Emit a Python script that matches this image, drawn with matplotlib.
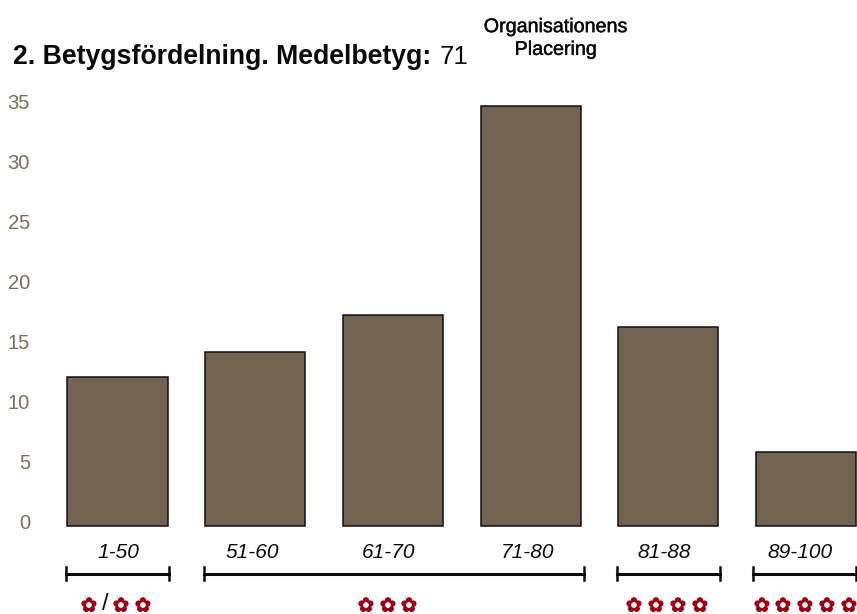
import numpy as np
import matplotlib
matplotlib.use("Agg")
import matplotlib.pyplot as plt
import matplotlib.patheffects as pe

plt.rcParams['font.family'] = ['Liberation Sans', 'DejaVu Sans']

categories = ['1-50', '51-60', '61-70', '71-80', '81-88', '89-100']
values = [12.4, 14.5, 17.6, 35.0, 16.6, 6.2]
y_ticks = [0, 5, 10, 15, 20, 25, 30, 35]

W, H = 857, 614
BROWN = '#736452'
TICK_COL = '#7d6e5b'
RED = '#a00010'
DARK = '#0a0a0a'
STEP = 137.7


def fx(px):
    return px / W


def fy(px):
    return 1 - px / H


fig = plt.figure(figsize=(W / 100, H / 100), dpi=100)
ax = fig.add_axes([0, 0, 1, 1])

x = np.arange(len(categories))
ax.bar(x, values, width=100 / STEP, color=BROWN, edgecolor='#111111', linewidth=1.1)

# first bar is centred at 117.5 px, 12 px per unit, zero at 526 px
ax.set_xlim(-117.5 / STEP, (W - 117.5) / STEP)
ax.set_ylim(-(H - 526) / 12, 526 / 12)
ax.axis('off')

for t in y_ticks:
    ax.annotate(str(t), xy=(0, t), xycoords=('axes fraction', 'data'), xytext=(30 * 0.72, 2.5 * 0.72),
                textcoords='offset points', color=TICK_COL, fontsize=14.5, va='center', ha='right')

# the range labels sit a little left of their bars in the original
label_shift = [0.5, -3, -4.5, -3, -4.5, -6]
for i, c in enumerate(categories):
    ax.annotate(c, xy=(i, 0), xytext=(label_shift[i] * 0.72, -27 * 0.72), textcoords='offset points',
                fontsize=15, style='italic', ha='center', va='center', color=DARK)

fig.text(fx(13), fy(57), '2. Betygsfördelning. Medelbetyg:', fontsize=19.2, fontweight='bold',
         va='center', ha='left', color=DARK)
fig.text(fx(440), fy(57), '71', fontsize=18.5, va='center', ha='left', color=DARK)
head = fig.text(fx(556), fy(38), 'Organisationens\nPlacering', fontsize=14.2, ha='center', va='center',
                linespacing=1.25, color=DARK)
head.set_path_effects([pe.withStroke(linewidth=0.3, foreground=DARK)])

# brackets under the axis
for x0, x1 in [(66, 169), (204, 584), (617, 720), (753, 856)]:
    fig.add_artist(plt.Line2D([fx(x0), fx(x1)], [fy(573.5), fy(573.5)], color=DARK, lw=2.2))
    for xx in (x0, x1):
        fig.add_artist(plt.Line2D([fx(xx), fx(xx)], [fy(567), fy(580)], color=DARK, lw=1.8))

# florette ratings
stars = [89, 121, 143, 366, 388, 409, 634, 656, 678, 700, 762, 783, 805, 827, 849]
for sx in stars:
    s = fig.text(fx(sx), fy(606), '\u273f', color=RED, fontsize=14, ha='center', va='center',
                 family='DejaVu Sans')
    s.set_path_effects([pe.withStroke(linewidth=0.6, foreground=RED)])
fig.text(fx(105), fy(604), '/', color=DARK, fontsize=17, ha='center', va='center')

fig.savefig('out.png', dpi=100)
